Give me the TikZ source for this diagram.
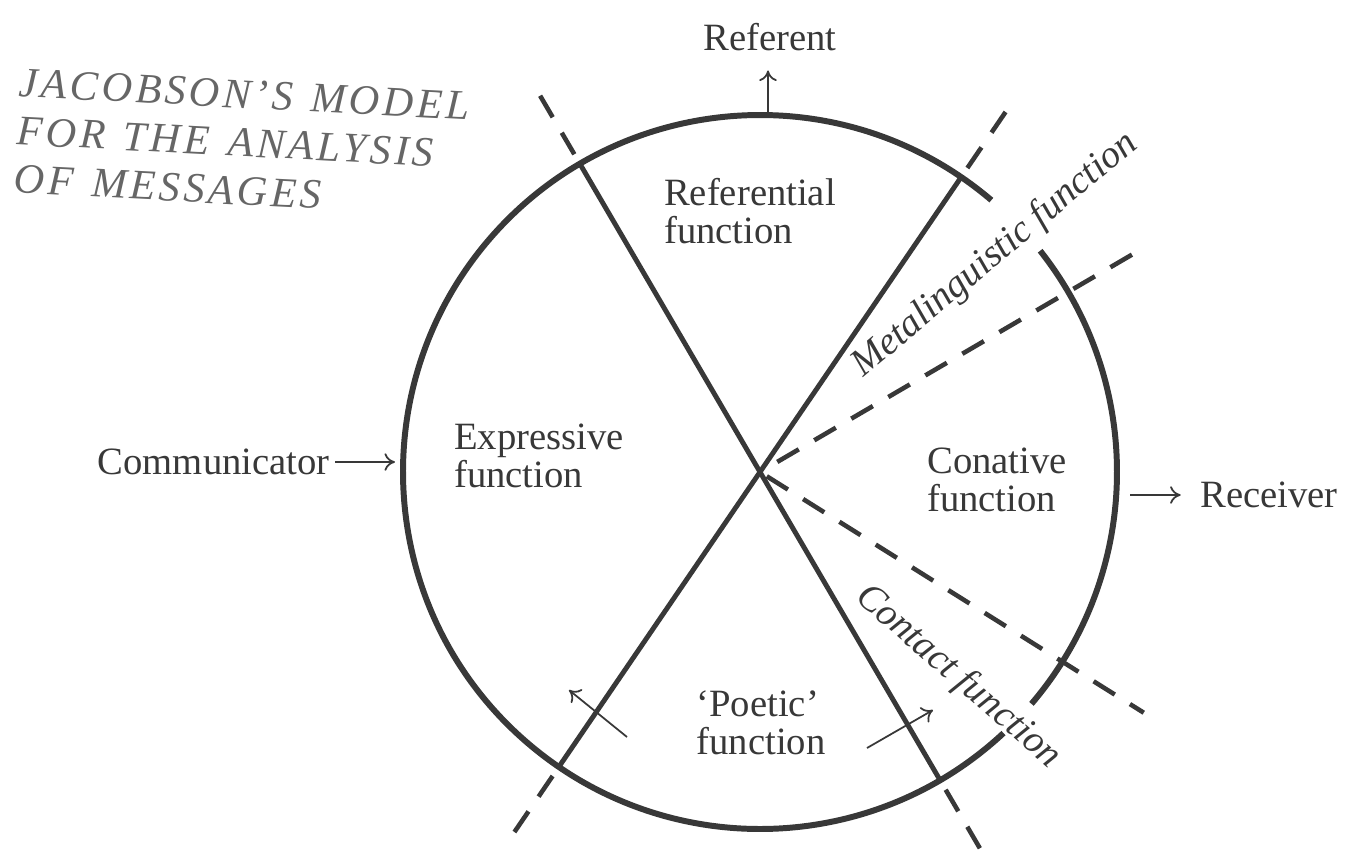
\documentclass[tikz,border=0pt]{standalone}
\usepackage{fontspec}
\setmainfont{Liberation Serif}
\newfontfamily\titlefont[LetterSpace=8, WordSpace=1.3]{Liberation Serif}
\usetikzlibrary{arrows.meta}
\definecolor{ink}{gray}{0.22}
\definecolor{titleink}{gray}{0.40}

\begin{document}
\begin{tikzpicture}[x=0.02cm, y=0.02cm,
    lab/.style={inner sep=0pt, text=ink, align=left, font=\fontsize{22}{21.5}\selectfont},
    slab/.style={lab, font=\fontsize{22}{21.5}\selectfont\itshape},
    rim/.style={ink, line width=3.4pt},
    cut/.style={ink, line width=2.8pt},
    cutdash/.style={ink, line width=2.6pt, dash pattern=on 14.2pt off 10.2pt},
    arr/.style={ink, line width=1pt, -{To[length=6pt, width=10pt]}}]
    \useasboundingbox (-760, -381) rectangle (604, 472);
    \coordinate (O) at (0, 0);

    \node (title) at (-740, 404) [anchor=north west, rotate=-3, inner sep=0pt, text=titleink, align=left,
        font=\titlefont\fontsize{24}{27.5}\selectfont\itshape] {JACOBSON’S MODEL\\FOR THE ANALYSIS\\OF MESSAGES};

    \draw[rim] (49.6:357) arc[start angle=49.6, end angle=313, radius=357];
    \draw[rim] (-40.5:357) arc[start angle=-40.5, end angle=38.3, radius=357];

    \foreach \a in {120.3, 55.7}
        \draw[cut] (\a:357) -- (\a+180:357);
    \foreach \a in {120.3, -59.7, 55.7, 235.7}
        \draw[cutdash] (\a:368) -- (\a:436);
    \draw[cutdash] (30.3:20) -- (30.3:446);
    \draw[cutdash] (-32.1:8) -- (-32.1:453);

    \node (referential) at (-10, 261) [lab] {Referential\\function};
    \node (expressive) at (-221, 16) [lab] {Expressive\\function};
    \node (conative) at (237, -8) [lab] {Conative\\function};
    \node (poetic) at (1, -251) [lab] {‘Poetic’\\function};
    \node (metaling) at (235, 217) [slab, rotate=40] {Metalinguistic function};
    \node (contact) at (198, -205) [slab, rotate=-41] {Contact function};

    \node (referent) at (10, 435) [lab] {Referent};
    \node (communicator) at (-430, 10) [lab, anchor=east] {Communicator};
    \node (receiver) at (440, -23) [lab, anchor=west] {Receiver};

    \coordinate (reftop) at (8, 357);
    \coordinate (commtip) at (-365, 12);
    \coordinate (recvtail) at (370, -23);
    \coordinate (pl1) at (-133, -265);
    \coordinate (pl2) at (-191, -218);
    \coordinate (pr1) at (107, -276);
    \coordinate (pr2) at (173, -238);

    \draw[arr, shorten >=11pt] (reftop) -- (reftop |- referent.south);
    \draw[arr, shorten <=3pt] (communicator.east) -- (communicator.east -| commtip);
    \draw[arr, shorten >=11pt] (recvtail) -- (receiver.west);
    \draw[arr] (pl1) -- (pl2);
    \draw[arr] (pr1) -- (pr2);
\end{tikzpicture}
\end{document}
